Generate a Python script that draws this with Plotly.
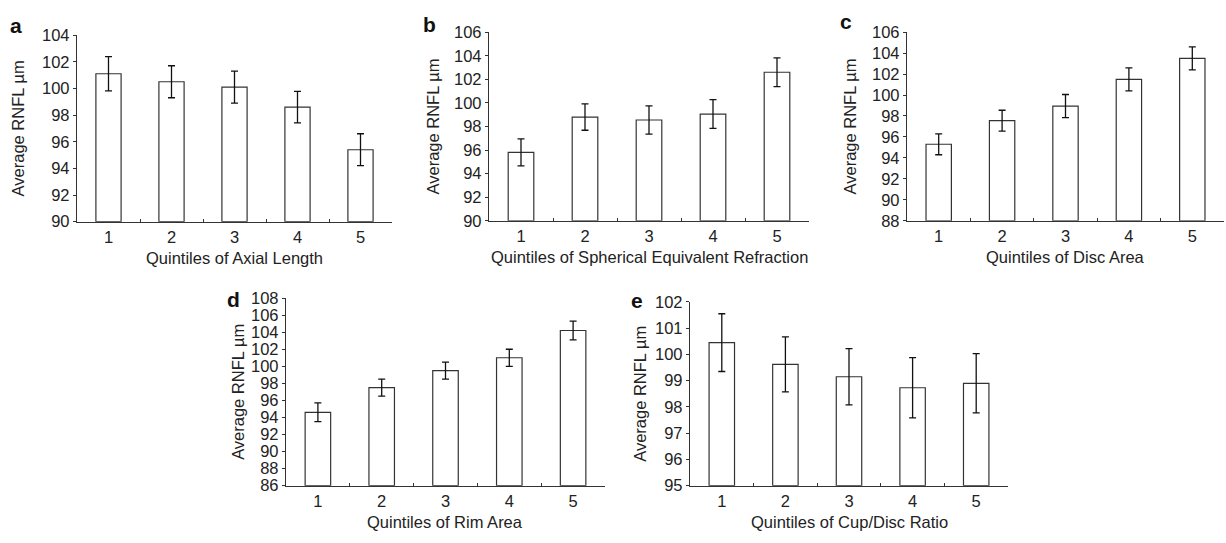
import plotly.graph_objects as go

W, H = 1226, 543

quintiles = ["1", "2", "3", "4", "5"]

# Panel a: Axial Length
axial_mean = [101.1, 100.5, 100.1, 98.6, 95.4]
axial_err = [1.28, 1.2, 1.2, 1.18, 1.2]
# Panel b: Spherical Equivalent Refraction
ser_mean = [95.8, 98.8, 98.55, 99.05, 102.6]
ser_err = [1.15, 1.12, 1.2, 1.22, 1.22]
# Panel c: Disc Area
disc_mean = [95.3, 97.55, 98.95, 101.5, 103.5]
disc_err = [1.0, 1.0, 1.1, 1.1, 1.1]
# Panel d: Rim Area
rim_mean = [94.6, 97.5, 99.5, 101.0, 104.2]
rim_err = [1.1, 1.0, 1.0, 1.0, 1.1]
# Panel e: Cup/Disc Ratio
cdr_mean = [100.45, 99.62, 99.15, 98.73, 98.9]
cdr_err = [1.1, 1.05, 1.07, 1.15, 1.13]

panels = [
    dict(letter="a", x_title="Quintiles of Axial Length", mean=axial_mean, err=axial_err,
         yr=(90, 104), dt=2, px=(77, 392), py=(27, 220), lx=16, ly=17, tx=18),
    dict(letter="b", x_title="Quintiles of Spherical Equivalent Refraction", mean=ser_mean, err=ser_err,
         yr=(90, 106), dt=2, px=(489, 809), py=(24, 219), lx=429, ly=16, tx=433),
    dict(letter="c", x_title="Quintiles of Disc Area", mean=disc_mean, err=disc_err,
         yr=(88, 106), dt=2, px=(907, 1224), py=(24, 219), lx=846, ly=13, tx=850),
    dict(letter="d", x_title="Quintiles of Rim Area", mean=rim_mean, err=rim_err,
         yr=(86, 108), dt=2, px=(286, 605), py=(299, 493), lx=233, ly=300, tx=238),
    dict(letter="e", x_title="Quintiles of Cup/Disc Ratio", mean=cdr_mean, err=cdr_err,
         yr=(95, 102), dt=1, px=(690, 1008), py=(303, 493), lx=637, ly=302, tx=640),
]

FONT = "Liberation Sans, Arial, sans-serif"
AX = "#333333"
TXT = "#222222"
FS = 16.5

fig = go.Figure()
annotations = []
layout_axes = {}

for i, p in enumerate(panels):
    n = "" if i == 0 else str(i + 1)
    xa, ya = "x" + n, "y" + n
    fig.add_trace(go.Bar(
        x=quintiles, y=[m - p["yr"][0] for m in p["mean"]], base=p["yr"][0],
        width=0.4, marker=dict(color="white", line=dict(color=AX, width=1.2)),
        error_y=dict(type="data", array=p["err"], color="#111111", thickness=1.3, width=3.5),
        xaxis=xa, yaxis=ya, showlegend=False, hoverinfo="skip",
    ))
    x0, x1 = p["px"][0] / W, p["px"][1] / W
    y1, y0 = 1 - p["py"][0] / H, 1 - p["py"][1] / H
    layout_axes["xaxis" + n] = dict(
        domain=[x0, x1], anchor=ya, type="category", range=[-0.5, 4.5],
        showline=True, linecolor=AX, linewidth=1.2, ticks="inside", tickson="boundaries",
        ticklen=3, tickcolor=AX, showgrid=False, zeroline=False,
        tickfont=dict(family=FONT, size=FS, color=TXT), fixedrange=True,
    )
    layout_axes["yaxis" + n] = dict(
        domain=[y0, y1], anchor=xa, range=list(p["yr"]), dtick=p["dt"], tick0=p["yr"][0],
        showline=True, linecolor=AX, linewidth=1.2, ticks="outside", ticklen=3, tickcolor=AX,
        showgrid=False, zeroline=False, tickfont=dict(family=FONT, size=FS, color=TXT),
        fixedrange=True,
    )
    # x title
    annotations.append(dict(
        text=p["x_title"], xref="paper", yref="paper", x=(x0 + x1) / 2,
        y=1 - (p["py"][1] + 38) / H,
        xanchor="center", yanchor="middle", showarrow=False,
        font=dict(family=FONT, size=FS, color=TXT),
    ))
    # y title
    annotations.append(dict(
        text="Average RNFL µm", xref="paper", yref="paper", x=p["tx"] / W,
        y=(y0 + y1) / 2, xanchor="center", yanchor="middle", textangle=-90, showarrow=False,
        font=dict(family=FONT, size=FS, color=TXT),
    ))
    # panel letter
    annotations.append(dict(
        text="<b>" + p["letter"] + "</b>", xref="paper", yref="paper",
        x=p["lx"] / W, y=1 - p["ly"] / H, xanchor="center", yanchor="middle", showarrow=False,
        font=dict(family=FONT, size=21, color="#111"),
    ))

fig.update_layout(
    width=W, height=H, margin=dict(l=0, r=0, t=0, b=0),
    paper_bgcolor="white", plot_bgcolor="white", bargap=0.6,
    annotations=annotations, **layout_axes,
)

fig.write_html(
    "out.html",
    config={"displayModeBar": False, "staticPlot": True},
    post_script="document.body.style.margin='0';document.body.style.overflow='hidden';",
)
